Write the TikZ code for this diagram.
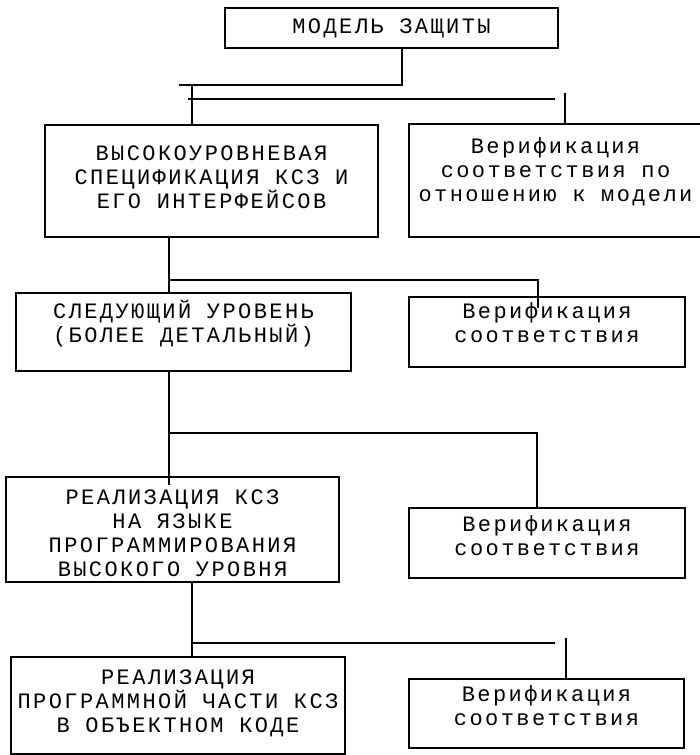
\documentclass[tikz,border=0pt]{standalone}
\usepackage{fontspec}
\newfontfamily\vfont[LetterSpace=11]{Liberation Mono}
\usepackage{tikz}
\usetikzlibrary{calc}
\tikzset{
  blk/.style={draw, rectangle, line width=1.5pt, inner sep=0pt, align=center,
    font=\vfont\fontsize{22}{24}\selectfont},
  lift/.style={text height=#1, text depth=0pt},
  link/.style={line width=1.5pt}
}

\begin{document}
\begin{tikzpicture}[x=1pt, y=-1pt]
  \useasboundingbox (0,0) rectangle (699,755);
  % boxes
  \node[blk, minimum width=333, minimum height=40] (top) at (391.5,28) {МОДЕЛЬ ЗАЩИТЫ};
  \node[blk, lift=54pt, minimum width=333, minimum height=112] (b1L) at (211.5,181)
    {ВЫСОКОУРОВНЕВАЯ\\СПЕЦИФИКАЦИЯ КСЗ И\\ЕГО ИНТЕРФЕЙСОВ};
  \node[blk, lift=41pt, minimum width=293, minimum height=113] (b1R) at (555.5,180.5)
    {Верификация\\соответствия по\\отношению к модели};
  \node[blk, lift=20pt, minimum width=335, minimum height=78] (b2L) at (183.5,332)
    {СЛЕДУЮЩИЙ УРОВЕНЬ\\(БОЛЕЕ ДЕТАЛЬНЫЙ)};
  \node[blk, lift=20pt, minimum width=276, minimum height=70] (b2R) at (547,332)
    {Верификация\\соответствия};
  \node[blk, lift=93pt, minimum width=333, minimum height=105] (b3L) at (172.5,529.5)
    {РЕАЛИЗАЦИЯ КСЗ\\НА ЯЗЫКЕ\\ПРОГРАММИРОВАНИЯ\\ВЫСОКОГО УРОВНЯ};
  \node[blk, lift=24pt, minimum width=276, minimum height=70] (b3R) at (547,543)
    {Верификация\\соответствия};
  \node[blk, lift=53pt, minimum width=334, minimum height=97] (b4L) at (178,705.5)
    {РЕАЛИЗАЦИЯ\\ПРОГРАММНОЙ ЧАСТИ КСЗ\\В ОБЪЕКТНОМ КОДЕ};
  \node[blk, lift=23pt, minimum width=275, minimum height=69] (b4R) at (546.5,713.5)
    {Верификация\\соответствия};

  % junctions and free ends
  \coordinate (j0) at (402,85);
  \coordinate (e0) at (179,85);
  \coordinate (e1) at (192,85);
  \coordinate (e2) at (188,99);
  \coordinate (e3) at (555,99);
  \coordinate (e4) at (565,93);
  \coordinate (j1) at (169,280);
  \coordinate (j2) at (538,280);
  \coordinate (e5) at (538,308);
  \coordinate (j3) at (169,433);
  \coordinate (j4) at (537,433);
  \coordinate (e6) at (169,485);
  \coordinate (j5) at (192,643);
  \coordinate (e7) at (555,643);
  \coordinate (e8) at (566,638);

  % connectors
  \draw[link] (top.south -| j0) -- (j0) -- (e0);
  \draw[link] (e1) -- (b1L.north -| e1);
  \draw[link] (e2) -- (e3);
  \draw[link] (e4) -- (b1R.north -| e4);
  \draw[link] (b1L.south -| j1) -- (b2L.north -| j1);
  \draw[link] (j1) -- (j2) -- (e5);
  \draw[link] (b2L.south -| j3) -- (e6);
  \draw[link] (j3) -- (j4) -- (b3R.north -| j4);
  \draw[link] (b3L.south -| j5) -- (b4L.north -| j5);
  \draw[link] (j5) -- (e7);
  \draw[link] (e8) -- (b4R.north -| e8);
\end{tikzpicture}
\end{document}
